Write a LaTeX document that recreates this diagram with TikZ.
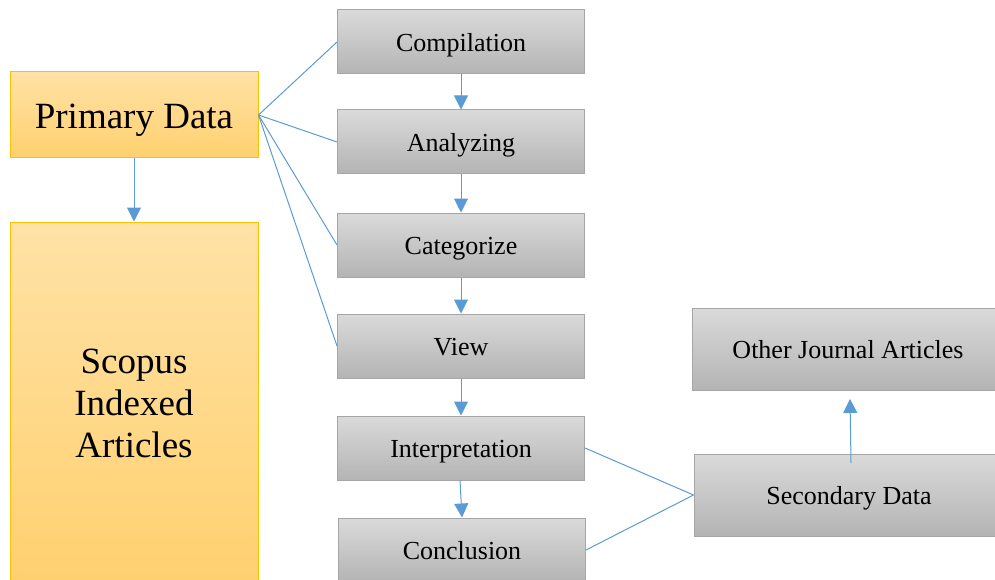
\documentclass[tikz,border=0pt]{standalone}
\usepackage{fontspec}
\setmainfont{Liberation Serif}
\newfontfamily\tnr{Liberation Serif}
\usetikzlibrary{arrows.meta}
\definecolor{lnblue}{HTML}{5B9BD5}
\definecolor{gtop}{HTML}{DADADA}
\definecolor{gbot}{HTML}{B4B4B4}
\definecolor{gbord}{HTML}{A6A6A6}
\definecolor{otop}{HTML}{FFE2A6}
\definecolor{obot}{HTML}{FFD06F}
\definecolor{obord}{HTML}{FFC000}
\newcommand{\glab}[1]{\raisebox{-9.5pt}[0pt][0pt]{#1}}
\newcommand{\olab}[1]{\raisebox{-13.5pt}[0pt][0pt]{#1}}
\tikzset{
  graybox/.style={draw=gbord, line width=1pt, top color=gtop, bottom color=gbot, minimum width=247pt, minimum height=64pt, inner sep=0pt, font=\tnr\fontsize{26}{30}\selectfont},
  orbox/.style={draw=obord, line width=1pt, top color=otop, bottom color=obot, minimum width=248pt, inner sep=0pt, font=\tnr\fontsize{37}{42}\selectfont, align=center},
  conn/.style={draw=lnblue, line width=1pt},
  arr/.style={draw=lnblue, line width=1pt, -{Triangle[width=14pt,length=14pt]}}
}
\begin{document}
\begin{tikzpicture}[x=1pt,y=-1pt]
\useasboundingbox (0,0) rectangle (995,580);
\node[orbox, minimum height=86pt] (prim) at (134,115) {\olab{Primary Data}};
\node[orbox, minimum height=362pt] (scop) at (134,403) {Scopus\\Indexed\\Articles};
\node[graybox] (comp) at (461,42) {\glab{Compilation}};
\node[graybox] (anal) at (461,142) {\glab{Analyzing}};
\node[graybox] (cate) at (461,245) {\glab{Categorize}};
\node[graybox] (view) at (461,346) {\glab{View}};
\node[graybox] (interp) at (461,448) {\glab{Interpretation}};
\node[graybox] (concl) at (462,550) {\glab{Conclusion}};
\node[graybox, minimum width=312pt, minimum height=82pt] (other) at (848,349) {\glab{Other Journal Articles}};
\node[graybox, minimum width=310pt, minimum height=82pt] (sec) at (849,495) {\glab{Secondary Data}};
\draw[arr] (prim.south) -- (scop.north);
\draw[arr] (comp.south) -- (anal.north);
\draw[arr] (anal.south) -- (cate.north);
\draw[arr] (cate.south) -- (view.north);
\draw[arr] (view.south) -- (interp.north);
\draw[arr] ([xshift=-1pt]interp.south) -- (concl.north);
\coordinate (secup) at (851,463);
\coordinate (othlow) at (850,399);
\draw[arr] (secup) -- (othlow);
\draw[conn] (prim.east) -- (comp.west);
\draw[conn] (prim.east) -- (anal.west);
\draw[conn] (prim.east) -- (cate.west);
\draw[conn] (prim.east) -- (view.west);
\draw[conn] (interp.east) -- (sec.west);
\draw[conn] (concl.east) -- (sec.west);
\end{tikzpicture}
\end{document}
